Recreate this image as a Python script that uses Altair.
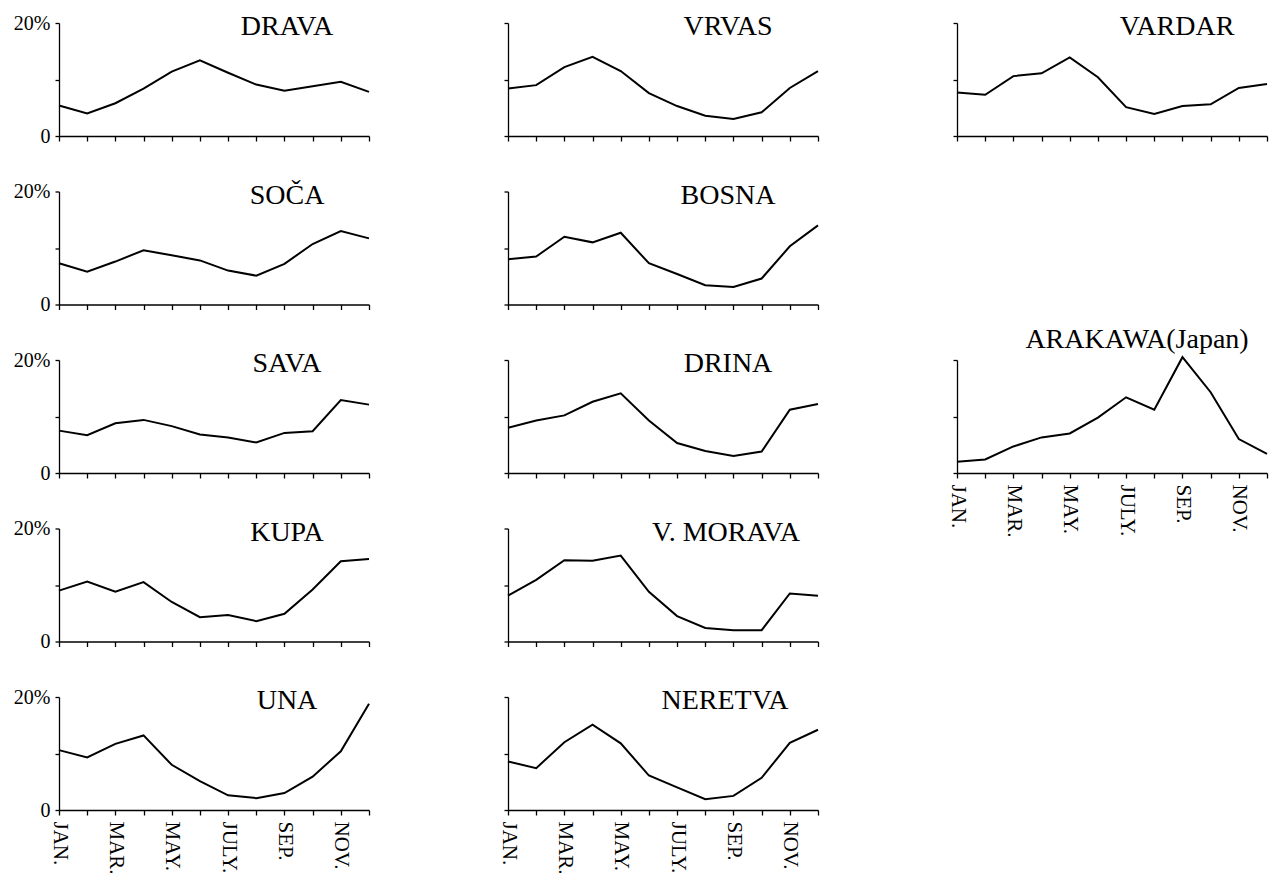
import altair as alt
import pandas as pd

months = list(range(1, 13))
month_labels = ["JAN.", "", "MAR.", "", "MAY.", "", "JULY.", "", "SEP.", "", "NOV.", ""]

drava = [5.4, 4.0, 5.8, 8.4, 11.4, 13.4, 11.2, 9.1, 8.0, 8.8, 9.6, 7.8]
soca = [7.3, 5.8, 7.6, 9.6, 8.7, 7.8, 6.0, 5.1, 7.2, 10.7, 13.0, 11.7]
sava = [7.5, 6.7, 8.8, 9.4, 8.3, 6.8, 6.3, 5.4, 7.1, 7.4, 12.9, 12.1]
kupa = [9.0, 10.6, 8.8, 10.5, 7.0, 4.3, 4.7, 3.6, 4.9, 9.2, 14.2, 14.6]
una = [10.6, 9.3, 11.7, 13.2, 8.0, 5.1, 2.6, 2.1, 3.0, 5.9, 10.4, 18.8]
vrvas = [8.4, 9.0, 12.2, 14.0, 11.5, 7.6, 5.3, 3.6, 3.0, 4.2, 8.5, 11.5]
bosna = [8.0, 8.5, 12.0, 11.0, 12.7, 7.3, 5.4, 3.4, 3.1, 4.6, 10.3, 14.0]
drina = [8.0, 9.3, 10.2, 12.6, 14.1, 9.3, 5.3, 3.9, 3.0, 3.8, 11.2, 12.2]
v_morava = [8.1, 10.9, 14.4, 14.3, 15.2, 8.8, 4.5, 2.4, 2.0, 2.0, 8.5, 8.1]
neretva = [8.6, 7.4, 12.0, 15.1, 11.8, 6.1, 4.0, 1.9, 2.5, 5.7, 11.9, 14.2]
vardar = [7.7, 7.3, 10.6, 11.1, 13.9, 10.4, 5.1, 3.9, 5.3, 5.6, 8.5, 9.2]
arakawa = [2.0, 2.4, 4.7, 6.3, 7.0, 9.8, 13.4, 11.2, 20.5, 14.3, 6.0, 3.4]

y_ticks = [0, 10, 20]
y_labels = ["0", "", "20%"]

SERIF = "Liberation Serif"
W, H = 310, 113

x_label_expr = "[" + ",".join("'%s'" % m for m in month_labels) + "][datum.value - 1]"
y_label_expr = "[" + ",".join("'%s'" % t for t in y_labels) + "][datum.value / 10]"


def panel(name, values, title_x=225, title_y=4, ylab=False, xlab=False):
    df = pd.DataFrame({"month": months, "pct": values})
    if xlab:
        x_axis = alt.Axis(values=months, tickSize=5, labelExpr=x_label_expr,
                          labelAngle=90, labelAlign="left", labelBaseline="middle",
                          labelFontSize=21, labelPadding=6, labelFont=SERIF)
    else:
        x_axis = alt.Axis(values=months, tickSize=5, labels=False)
    if ylab:
        y_axis = alt.Axis(values=y_ticks, tickSize=4, labelExpr=y_label_expr,
                          labelFontSize=20, labelPadding=5, labelFont=SERIF)
    else:
        y_axis = alt.Axis(values=y_ticks, tickSize=4, labels=False)
    line = alt.Chart(df).mark_line(color="black", strokeWidth=2).encode(
        x=alt.X("month:Q", scale=alt.Scale(domain=[1, 12], nice=False), axis=x_axis, title=None),
        y=alt.Y("pct:Q", scale=alt.Scale(domain=[0, 20], nice=False), axis=y_axis, title=None),
    )
    txt = alt.Chart(pd.DataFrame({"t": [name]})).mark_text(
        font=SERIF, fontSize=28, align="center", baseline="middle", color="black"
    ).encode(x=alt.value(title_x), y=alt.value(title_y), text="t:N")
    return alt.layer(line, txt).properties(width=W, height=H)


def blank():
    return alt.Chart(pd.DataFrame({"v": [0]})).mark_point(opacity=0).encode(
        x=alt.X("v:Q", axis=None), y=alt.Y("v:Q", axis=None)
    ).properties(width=W, height=H)


chart = alt.concat(
    panel("DRAVA", drava, 228, ylab=True),
    panel("VRVAS", vrvas, 220),
    panel("VARDAR", vardar, 220),
    panel("SOČA", soca, 228, ylab=True),
    panel("BOSNA", bosna, 220),
    blank(),
    panel("SAVA", sava, 228, ylab=True),
    panel("DRINA", drina, 220),
    panel("ARAKAWA(Japan)", arakawa, 180, title_y=-20, xlab=True),
    panel("KUPA", kupa, 228, ylab=True),
    panel("V. MORAVA", v_morava, 218),
    blank(),
    panel("UNA", una, 228, ylab=True, xlab=True),
    panel("NERETVA", neretva, 217, xlab=True),
    columns=3,
    spacing={"row": 55.5, "column": 139},
    bounds="flush",
).properties(
    padding={"left": 5, "top": 5, "right": 0, "bottom": 5}
).configure_view(stroke=None).configure_axis(
    grid=False, domainColor="black", tickColor="black", labelColor="black",
    domainWidth=1.3, tickWidth=1.3,
)

chart.save("out.html", embed_options={"renderer": "svg", "actions": False})
